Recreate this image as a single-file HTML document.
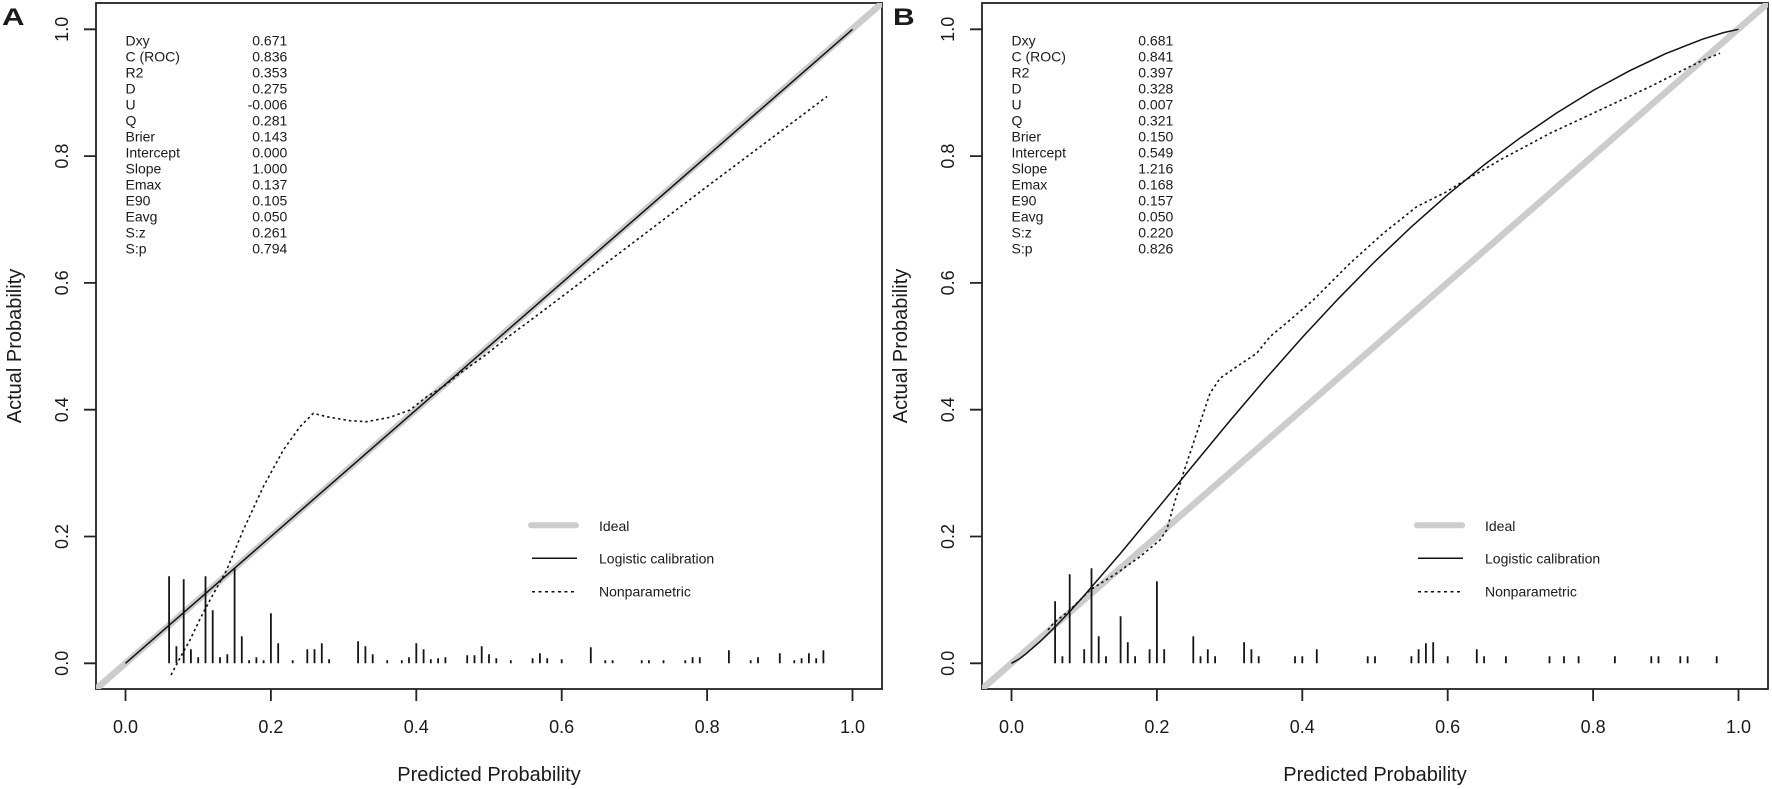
<!DOCTYPE html>
<html>
<head>
<meta charset="utf-8">
<style>
html,body{margin:0;padding:0;background:#fff;}
svg{display:block;}
text{font-family:"Liberation Sans",Arial,sans-serif;fill:#1a1a1a;}
</style>
</head>
<body>
<svg width="1772" height="789" viewBox="0 0 1772 789" xmlns="http://www.w3.org/2000/svg">
<defs>
<clipPath id="clipA"><rect x="96" y="3" width="786" height="686"/></clipPath>
<g id="frame">
  <rect x="96" y="3" width="786" height="686" fill="none" stroke="#222" stroke-width="1.8"/>
  <path d="M84 663.3H96M84 536.5H96M84 409.7H96M84 282.9H96M84 156.1H96M84 29.3H96" stroke="#222" stroke-width="1.8" fill="none"/>
  <path d="M125.5 689V701M270.9 689V701M416.3 689V701M561.7 689V701M707.1 689V701M852.5 689V701" stroke="#222" stroke-width="1.8" fill="none"/>
  <path d="M96 689L882 3" stroke="#cccccc" stroke-width="6.5" fill="none" clip-path="url(#clipA)"/>
  <path d="M531 525.3H576" stroke="#cccccc" stroke-width="6" stroke-linecap="round" fill="none"/>
  <path d="M532 558.3H577" stroke="#111" stroke-width="1.5" fill="none"/>
  <path d="M532 591.7H576" stroke="#111" stroke-width="1.5" stroke-dasharray="3 3.5" fill="none"/>
</g>
</defs>

<!-- ================= PANEL A ================= -->
<g>
  <use href="#frame"/>
  <!-- rug -->
  <path fill="none" stroke="#151515" stroke-width="1.8" d="M169.1 663.3V576.3 M176.4 663.3V646.3 M183.7 663.3V579.3 M190.9 663.3V649.3 M198.2 663.3V657.3 M205.5 663.3V576.3 M212.7 663.3V610.3 M220 663.3V657.3 M227.3 663.3V654.3 M234.6 663.3V568.3 M241.8 663.3V636.3 M249.1 663.3V660.3 M256.4 663.3V657.3 M263.6 663.3V660.3 M270.9 663.3V613.3 M278.2 663.3V643.3 M292.7 663.3V660.3 M307.3 663.3V649.3 M314.5 663.3V649.3 M321.8 663.3V643.3 M329.1 663.3V659.3 M358.1 663.3V641.3 M365.4 663.3V646.3 M372.7 663.3V654.3 M387.2 663.3V660.3 M401.8 663.3V660.3 M409 663.3V657.3 M416.3 663.3V643.3 M423.6 663.3V649.3 M430.8 663.3V659.3 M438.1 663.3V658.3 M445.4 663.3V657.3 M467.2 663.3V655.3 M474.5 663.3V655.3 M481.7 663.3V646.3 M489 663.3V654.3 M496.3 663.3V658.3 M510.8 663.3V660.3 M532.6 663.3V658.3 M539.9 663.3V653.3 M547.2 663.3V658.3 M561.7 663.3V659.3 M590.8 663.3V647.3 M605.3 663.3V660.3 M612.6 663.3V660.3 M641.7 663.3V660.3 M648.9 663.3V660.3 M663.5 663.3V660.3 M685.3 663.3V660.3 M692.6 663.3V657.3 M699.8 663.3V657.3 M728.9 663.3V650.3 M750.7 663.3V660.3 M758 663.3V657.3 M779.8 663.3V653.3 M794.3 663.3V660.3 M801.6 663.3V658.3 M808.9 663.3V653.3 M816.2 663.3V658.3 M823.4 663.3V650.3"/>
  <!-- logistic -->
  <path d="M125.5 663.3L852.5 29.3" stroke="#111" stroke-width="1.5" fill="none"/>
  <!-- nonparametric -->
  <polyline fill="none" stroke="#111" stroke-width="1.6" stroke-dasharray="2.5 3" stroke-linejoin="round"
    points="171,675 180,658 190,640 200,619 210,600 226.7,570 243.3,530 263.3,486.7 283.3,450 300,426.7 313.3,413.3 326.7,416.7 350,420.7 366.7,421.7 390,417.3 410,410 426.7,396.7 443.3,386.7 460,373.3 483.3,356.7 508.3,336.7 525.4,324.1 561.7,296.8 634.4,241.7 707.1,186.5 779.8,132 827.1,96.5"/>

  <!-- tick labels -->
  <g font-size="18" text-anchor="middle">
    <text x="125.5" y="733">0.0</text>
    <text x="270.9" y="733">0.2</text>
    <text x="416.3" y="733">0.4</text>
    <text x="561.7" y="733">0.6</text>
    <text x="707.1" y="733">0.8</text>
    <text x="852.5" y="733">1.0</text>
    <text transform="translate(68,663.3) rotate(-90)">0.0</text>
    <text transform="translate(68,536.5) rotate(-90)">0.2</text>
    <text transform="translate(68,409.7) rotate(-90)">0.4</text>
    <text transform="translate(68,282.9) rotate(-90)">0.6</text>
    <text transform="translate(68,156.1) rotate(-90)">0.8</text>
    <text transform="translate(68,29.3) rotate(-90)">1.0</text>
  </g>
  <text x="489" y="781" font-size="20" text-anchor="middle">Predicted Probability</text>
  <text transform="translate(21,346) rotate(-90)" font-size="20" text-anchor="middle">Actual Probability</text>
  <text transform="translate(2,25) scale(1.3,1)" font-size="24" font-weight="bold" fill="#000">A</text>

  <!-- stats -->
  <g font-size="14">
    <text x="125.5" y="45.7">Dxy</text>
    <text x="125.5" y="61.7">C (ROC)</text>
    <text x="125.5" y="77.7">R2</text>
    <text x="125.5" y="93.7">D</text>
    <text x="125.5" y="109.7">U</text>
    <text x="125.5" y="125.7">Q</text>
    <text x="125.5" y="141.7">Brier</text>
    <text x="125.5" y="157.7">Intercept</text>
    <text x="125.5" y="173.7">Slope</text>
    <text x="125.5" y="189.7">Emax</text>
    <text x="125.5" y="205.7">E90</text>
    <text x="125.5" y="221.7">Eavg</text>
    <text x="125.5" y="237.7">S:z</text>
    <text x="125.5" y="253.7">S:p</text>
  </g>
  <g font-size="14" text-anchor="end">
    <text x="287.3" y="45.7">0.671</text>
    <text x="287.3" y="61.7">0.836</text>
    <text x="287.3" y="77.7">0.353</text>
    <text x="287.3" y="93.7">0.275</text>
    <text x="287.3" y="109.7">-0.006</text>
    <text x="287.3" y="125.7">0.281</text>
    <text x="287.3" y="141.7">0.143</text>
    <text x="287.3" y="157.7">0.000</text>
    <text x="287.3" y="173.7">1.000</text>
    <text x="287.3" y="189.7">0.137</text>
    <text x="287.3" y="205.7">0.105</text>
    <text x="287.3" y="221.7">0.050</text>
    <text x="287.3" y="237.7">0.261</text>
    <text x="287.3" y="253.7">0.794</text>
  </g>
  <!-- legend text -->
  <g font-size="14">
    <text x="599" y="531">Ideal</text>
    <text x="599" y="563.5">Logistic calibration</text>
    <text x="599" y="596.5">Nonparametric</text>
  </g>
</g>

<!-- ================= PANEL B ================= -->
<g transform="translate(886,0)">
  <use href="#frame"/>
  <path fill="none" stroke="#151515" stroke-width="1.8" d="M169.1 663.3V601.3 M176.4 663.3V656.3 M183.7 663.3V574.3 M198.2 663.3V649.3 M205.5 663.3V568.3 M212.7 663.3V636.3 M220 663.3V656.3 M234.6 663.3V616.3 M241.8 663.3V642.3 M249.1 663.3V656.3 M263.6 663.3V649.3 M270.9 663.3V581.3 M278.2 663.3V649.3 M307.3 663.3V636.3 M314.5 663.3V656.3 M321.8 663.3V649.3 M329.1 663.3V656.3 M358.1 663.3V642.3 M365.4 663.3V649.3 M372.7 663.3V656.3 M409 663.3V656.3 M416.3 663.3V656.3 M430.8 663.3V649.3 M481.7 663.3V656.3 M489 663.3V656.3 M525.4 663.3V656.3 M532.6 663.3V649.3 M539.9 663.3V643.3 M547.2 663.3V642.3 M561.7 663.3V656.3 M590.8 663.3V649.3 M598.1 663.3V656.3 M619.9 663.3V656.3 M663.5 663.3V656.3 M678 663.3V656.3 M692.6 663.3V656.3 M728.9 663.3V656.3 M765.3 663.3V656.3 M772.5 663.3V656.3 M794.3 663.3V656.3 M801.6 663.3V656.3 M830.7 663.3V656.3"/>
  <!-- logistic calibration curve -->
  <polyline fill="none" stroke="#111" stroke-width="1.5" stroke-linejoin="round"
    points="125.5,663.3 132.8,659.2 140,653.8 154.6,641.1 169.1,626.9 183.7,611.6 198.2,595.5 234.6,553.2 270.9,509.3 307.3,465.1 343.6,421.1 379.9,378.5 416.3,337.4 452.7,298.3 489,261.4 525.4,226.8 561.7,194.7 598.1,164.9 634.4,137.7 670.8,112.9 707.1,90.5 743.5,70.8 779.8,53.6 816.2,39.3 838,32.5 852.5,29.3"/>
  <!-- nonparametric -->
  <polyline fill="none" stroke="#111" stroke-width="1.6" stroke-dasharray="2.5 3" stroke-linejoin="round"
    points="162,630 167.3,623.3 184,610 204,590 230.7,573.3 254,556.7 274,540 280.7,530 287.3,506.7 297.3,473.3 307.3,443.3 317.3,413.3 324,393.3 334,378.3 350.7,366.7 370.7,353.3 384,336.7 404,320 427.3,300 447.3,280 464,263.3 497.3,233.3 530.7,206.7 560.7,191.7 574,183.3 614,160 664,133.3 714,110 764,86.7 797.3,70 817.3,60 834,53.3"/>

  <g font-size="18" text-anchor="middle">
    <text x="125.5" y="733">0.0</text>
    <text x="270.9" y="733">0.2</text>
    <text x="416.3" y="733">0.4</text>
    <text x="561.7" y="733">0.6</text>
    <text x="707.1" y="733">0.8</text>
    <text x="852.5" y="733">1.0</text>
    <text transform="translate(68,663.3) rotate(-90)">0.0</text>
    <text transform="translate(68,536.5) rotate(-90)">0.2</text>
    <text transform="translate(68,409.7) rotate(-90)">0.4</text>
    <text transform="translate(68,282.9) rotate(-90)">0.6</text>
    <text transform="translate(68,156.1) rotate(-90)">0.8</text>
    <text transform="translate(68,29.3) rotate(-90)">1.0</text>
  </g>
  <text x="489" y="781" font-size="20" text-anchor="middle">Predicted Probability</text>
  <text transform="translate(21,346) rotate(-90)" font-size="20" text-anchor="middle">Actual Probability</text>
  <text transform="translate(7,25) scale(1.25,1)" font-size="24" font-weight="bold" fill="#000">B</text>

  <g font-size="14">
    <text x="125.5" y="45.7">Dxy</text>
    <text x="125.5" y="61.7">C (ROC)</text>
    <text x="125.5" y="77.7">R2</text>
    <text x="125.5" y="93.7">D</text>
    <text x="125.5" y="109.7">U</text>
    <text x="125.5" y="125.7">Q</text>
    <text x="125.5" y="141.7">Brier</text>
    <text x="125.5" y="157.7">Intercept</text>
    <text x="125.5" y="173.7">Slope</text>
    <text x="125.5" y="189.7">Emax</text>
    <text x="125.5" y="205.7">E90</text>
    <text x="125.5" y="221.7">Eavg</text>
    <text x="125.5" y="237.7">S:z</text>
    <text x="125.5" y="253.7">S:p</text>
  </g>
  <g font-size="14" text-anchor="end">
    <text x="287.3" y="45.7">0.681</text>
    <text x="287.3" y="61.7">0.841</text>
    <text x="287.3" y="77.7">0.397</text>
    <text x="287.3" y="93.7">0.328</text>
    <text x="287.3" y="109.7">0.007</text>
    <text x="287.3" y="125.7">0.321</text>
    <text x="287.3" y="141.7">0.150</text>
    <text x="287.3" y="157.7">0.549</text>
    <text x="287.3" y="173.7">1.216</text>
    <text x="287.3" y="189.7">0.168</text>
    <text x="287.3" y="205.7">0.157</text>
    <text x="287.3" y="221.7">0.050</text>
    <text x="287.3" y="237.7">0.220</text>
    <text x="287.3" y="253.7">0.826</text>
  </g>
  <g font-size="14">
    <text x="599" y="531">Ideal</text>
    <text x="599" y="563.5">Logistic calibration</text>
    <text x="599" y="596.5">Nonparametric</text>
  </g>
</g>
</svg>
</body>
</html>
